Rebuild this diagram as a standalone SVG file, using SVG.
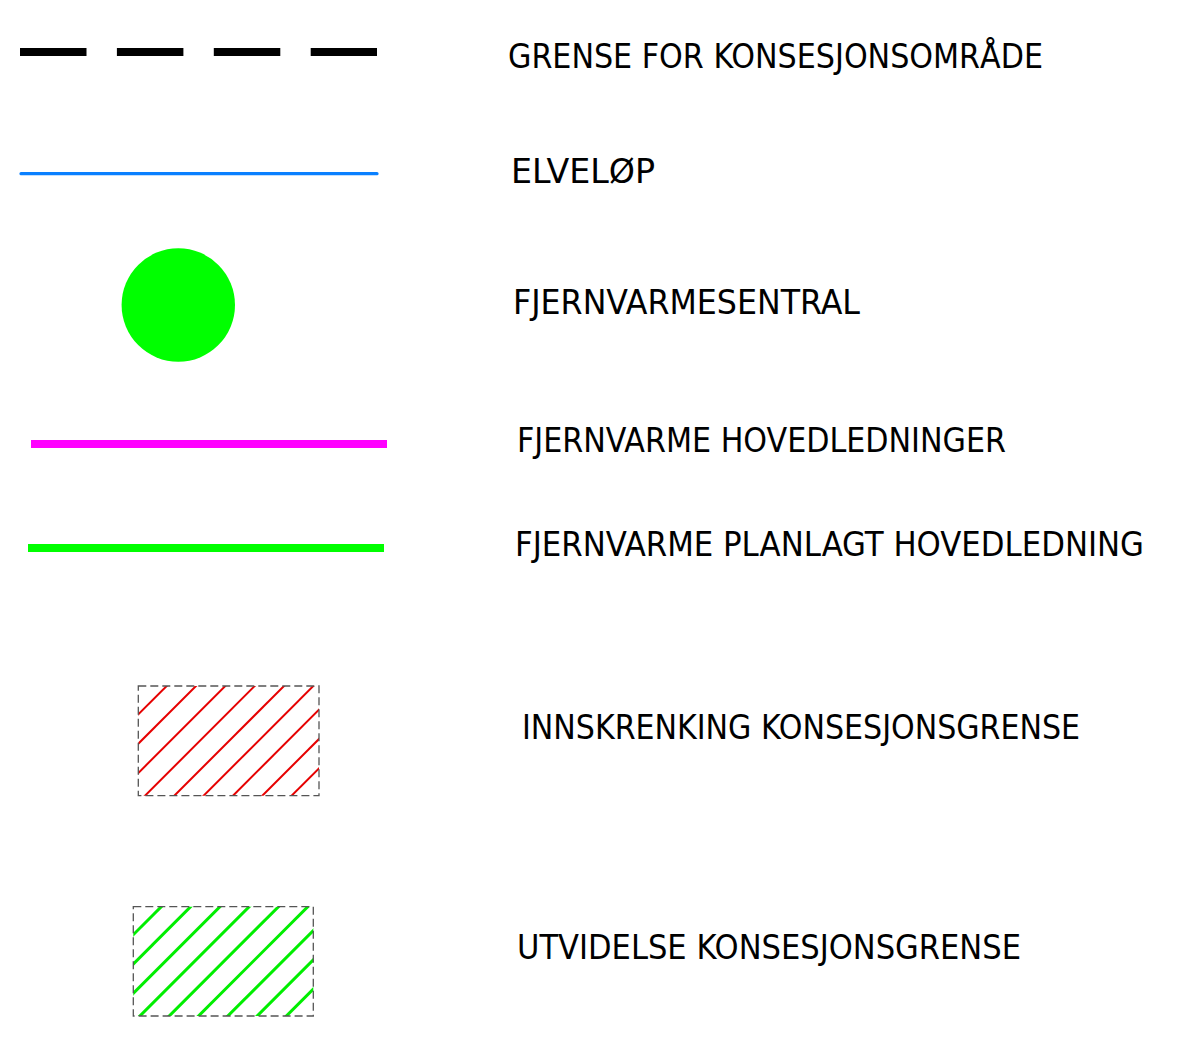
<svg xmlns="http://www.w3.org/2000/svg" width="1179" height="1037" viewBox="0 0 1179 1037">
  <style>
    .lbl { font-family: "Liberation Sans Narrow", "DejaVu Sans Condensed", "Liberation Sans", sans-serif; font-size: 34px; fill: #000; }
    .frame { fill: none; stroke: #555; stroke-width: 1.3; stroke-dasharray: 8 4; }
    .hatch-red line { stroke: #e60000; stroke-width: 2; }
    .hatch-green line { stroke: #00ee00; stroke-width: 3; }
  </style>
  <defs>
    <clipPath id="clipRed"><rect x="138.3" y="686" width="180.7" height="109.7"/></clipPath>
    <clipPath id="clipGreen"><rect x="133.3" y="906.7" width="180" height="109.3"/></clipPath>
  </defs>
  <rect width="1179" height="1037" fill="#fff"/>

  <g id="boundary">
    <line x1="20" y1="52" x2="377" y2="52" stroke="#000" stroke-width="8" stroke-dasharray="66.5 30.4"/>
    <text class="lbl" x="508" y="68" textLength="535" lengthAdjust="spacingAndGlyphs">GRENSE FOR KONSESJONSOMRÅDE</text>
  </g>

  <g id="river">
    <line x1="21" y1="173.7" x2="377" y2="173.7" stroke="#0a80ff" stroke-width="3.2" stroke-linecap="round"/>
    <text class="lbl" x="511" y="182.5" textLength="144" lengthAdjust="spacingAndGlyphs">ELVELØP</text>
  </g>

  <g id="central">
    <circle cx="178.3" cy="305" r="56.7" fill="#00ff00"/>
    <text class="lbl" x="513" y="313.5" textLength="347" lengthAdjust="spacingAndGlyphs">FJERNVARMESENTRAL</text>
  </g>

  <g id="mainlines">
    <line x1="31" y1="444" x2="387" y2="444" stroke="#ff00ff" stroke-width="8"/>
    <text class="lbl" x="517" y="452" textLength="489" lengthAdjust="spacingAndGlyphs">FJERNVARME HOVEDLEDNINGER</text>
  </g>

  <g id="plannedline">
    <line x1="28" y1="548" x2="384" y2="548" stroke="#00ff00" stroke-width="8"/>
    <text class="lbl" x="515" y="556" textLength="629" lengthAdjust="spacingAndGlyphs">FJERNVARME PLANLAGT HOVEDLEDNING</text>
  </g>

  <g id="restriction">
    <g class="hatch-red" clip-path="url(#clipRed)">
      <line x1="52.7" y1="800" x2="252.7" y2="600"/>
      <line x1="82" y1="800" x2="282" y2="600"/>
      <line x1="111.3" y1="800" x2="311.3" y2="600"/>
      <line x1="140.7" y1="800" x2="340.7" y2="600"/>
      <line x1="170" y1="800" x2="370" y2="600"/>
      <line x1="199.3" y1="800" x2="399.3" y2="600"/>
      <line x1="228.7" y1="800" x2="428.7" y2="600"/>
      <line x1="258" y1="800" x2="458" y2="600"/>
      <line x1="287.3" y1="800" x2="487.3" y2="600"/>
    </g>
    <rect class="frame" x="138.3" y="686" width="180.7" height="109.7"/>
    <text class="lbl" x="522" y="739" textLength="558" lengthAdjust="spacingAndGlyphs">INNSKRENKING KONSESJONSGRENSE</text>
  </g>

  <g id="extension">
    <g class="hatch-green" clip-path="url(#clipGreen)">
      <line x1="48" y1="1020" x2="248" y2="820"/>
      <line x1="77.3" y1="1020" x2="277.3" y2="820"/>
      <line x1="106.6" y1="1020" x2="306.6" y2="820"/>
      <line x1="135.9" y1="1020" x2="335.9" y2="820"/>
      <line x1="165.2" y1="1020" x2="365.2" y2="820"/>
      <line x1="194.5" y1="1020" x2="394.5" y2="820"/>
      <line x1="223.8" y1="1020" x2="423.8" y2="820"/>
      <line x1="253.1" y1="1020" x2="453.1" y2="820"/>
      <line x1="282.4" y1="1020" x2="482.4" y2="820"/>
    </g>
    <rect class="frame" x="133.3" y="906.7" width="180" height="109.3"/>
    <text class="lbl" x="517" y="959" textLength="504" lengthAdjust="spacingAndGlyphs">UTVIDELSE KONSESJONSGRENSE</text>
  </g>

  <g id="connectors"></g>
</svg>
